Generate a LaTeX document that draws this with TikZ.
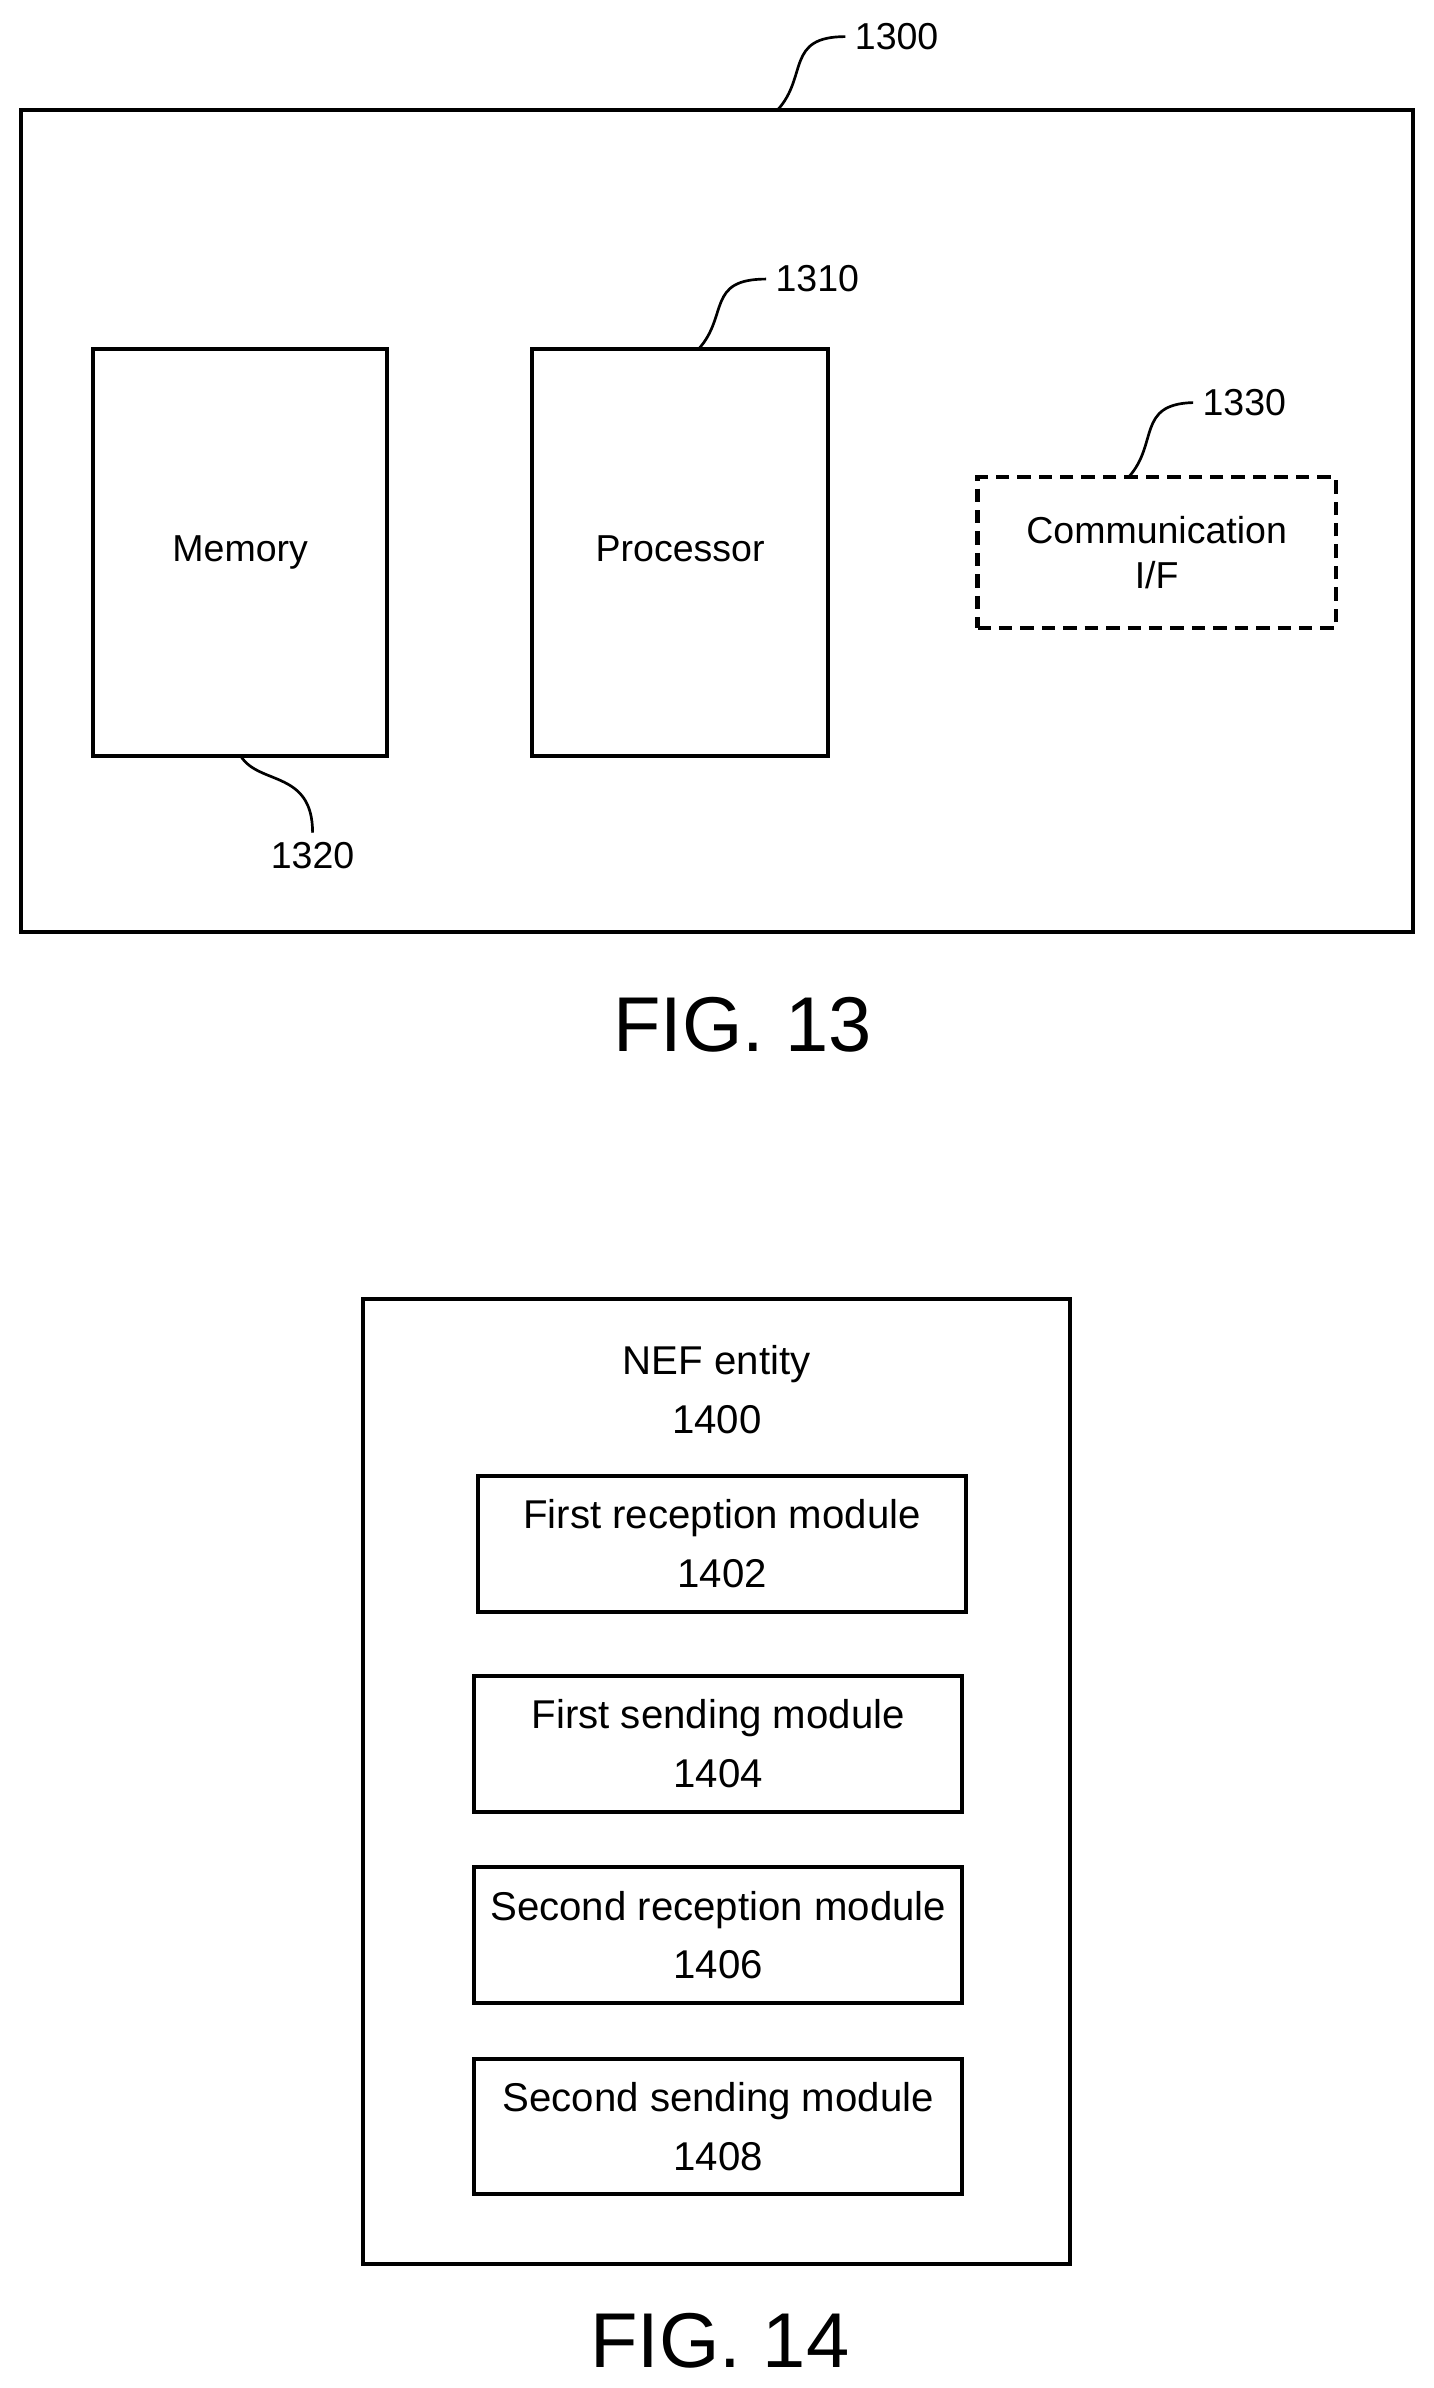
\documentclass[tikz,border=0pt]{standalone}
\usepackage{fontspec}
\setmainfont{Liberation Sans}
\begin{document}
\begin{tikzpicture}[x=0.02cm, y=-0.02cm,
        blk/.style={rectangle, draw, line width=1.5pt, inner sep=0pt, align=center, font=\fontsize{14}{17}\selectfont},
        mdl/.style={blk, minimum width=6.4cm, minimum height=1.78cm, font=\fontsize{15}{22}\selectfont},
        lbl/.style={font=\fontsize{14}{17}\selectfont},
        lead/.style={line width=1pt},
        fig/.style={font=\fontsize{29}{34}\selectfont},
        ]
      \useasboundingbox (0,0) rectangle (940,1566);

      % FIG. 13
      \node[blk, minimum width=18.26cm, minimum height=10.78cm] (dev) at (470.5,341.5) {};
      \node[blk, minimum width=3.86cm, minimum height=5.34cm] (mem) at (157.5,362.5) {\raisebox{3pt}{Memory}};
      \node[blk, minimum width=3.88cm, minimum height=5.34cm] (proc) at (446,362.5) {\raisebox{3pt}{Processor}};
      \node[blk, dash pattern=on 5pt off 3pt, minimum width=4.7cm, minimum height=1.98cm] (comm) at (758.5,362.5) {Communication\\I/F};

      \node[lbl] (ldev) at (588,24) {1300};
      \node[lbl] (lproc) at (536,183) {1310};
      \node[lbl] (lcomm) at (816,264) {1330};
      \node[lbl] (lmem) at (205,561) {1320};

      \coordinate (cdev) at (510,72);
      \coordinate (cproc) at (458,229);
      \coordinate (ccomm) at (740,313);
      \coordinate (cmem) at (158,496);

      \draw[lead] (cdev) .. controls (530,50) and (515,24) .. (ldev.west);
      \draw[lead] (cproc) .. controls (478,207) and (463,183) .. (lproc.west);
      \draw[lead] (ccomm) .. controls (760,291) and (745,265) .. (lcomm.west);
      \draw[lead] (cmem) .. controls (170,515) and (205,505) .. (lmem.north);

      \node[fig] (f13) at (487,672) {FIG. 13};

      % FIG. 14
      \node[blk, minimum width=9.28cm, minimum height=12.66cm] (nef) at (470,1168.5) {};
      \node[font=\fontsize{15}{22}\selectfont, align=center] (neft) at (470,911) {NEF entity\\1400};
      \node[mdl] (m1) at (473.5,1012.5) {First reception module\\1402};
      \node[mdl] (m2) at (471,1143.5) {First sending module\\1404};
      \node[mdl] (m3) at (471,1269) {Second reception module\\1406};
      \node[mdl] (m4) at (471,1394.5) {Second sending module\\1408};

      \node[fig] (f14) at (472,1535) {FIG. 14};
\end{tikzpicture}
\end{document}
